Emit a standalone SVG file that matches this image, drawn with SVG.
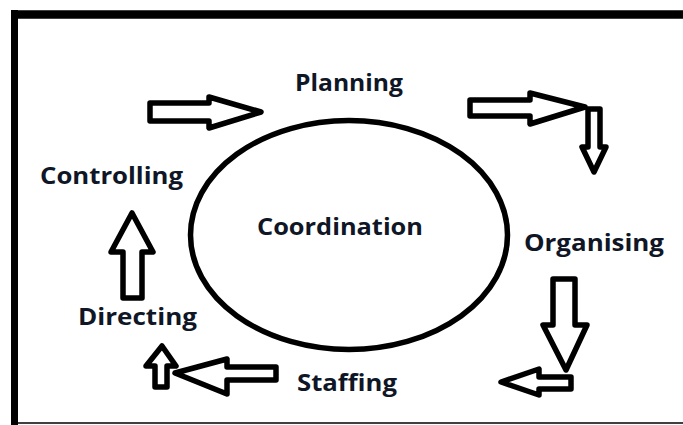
<svg xmlns="http://www.w3.org/2000/svg" width="683" height="425" viewBox="0 0 683 425">
<style>
.lbl{font-family:"Open Sans","Liberation Sans",sans-serif;font-weight:bold;fill:#0f1626;font-size:23px}
.arr{fill:#fff;stroke:#000;stroke-width:5.5;stroke-linejoin:round}
</style>
<rect x="0" y="0" width="683" height="425" fill="#fff"/>
<g id="frame">
<line x1="11" y1="14.5" x2="683" y2="14.5" stroke="#000" stroke-width="8.5"/>
<line x1="14.5" y1="10" x2="14.5" y2="425" stroke="#000" stroke-width="7"/>
<line x1="14" y1="423" x2="683" y2="423" stroke="#000" stroke-width="1.6"/>
</g>
<g id="coordination">
<ellipse cx="349" cy="235" rx="158.5" ry="114.5" fill="#fff" stroke="#000" stroke-width="5.5"/>
<text class="lbl" x="257" y="235" font-size="25" textLength="166" lengthAdjust="spacingAndGlyphs">Coordination</text>
</g>
<g id="planning"><text class="lbl" x="295" y="91" textLength="108" lengthAdjust="spacingAndGlyphs">Planning</text></g>
<g id="organising"><text class="lbl" x="524" y="251" textLength="140" lengthAdjust="spacingAndGlyphs">Organising</text></g>
<g id="staffing"><text class="lbl" x="297" y="391" textLength="100" lengthAdjust="spacingAndGlyphs">Staffing</text></g>
<g id="directing"><text class="lbl" x="78" y="325" textLength="119" lengthAdjust="spacingAndGlyphs">Directing</text></g>
<g id="controlling"><text class="lbl" x="40" y="184" textLength="143" lengthAdjust="spacingAndGlyphs">Controlling</text></g>
<g id="connectors">
<polygon class="arr" points="150,103 209,103 209,97 261,112 209,128 209,121 150,121"/>
<polygon class="arr" points="470,100 530,100 530,93 585,107 530,124 530,116 470,116"/>
<polygon class="arr" points="588,109 600,109 600,147 606,147 594,172 582,147 588,147"/>
<polygon class="arr" points="553,279 575,279 575,325 587,325 566,370 543,325 553,325"/>
<polygon class="arr" points="571,377 571,389 539,389 539,395 501,382 539,369 539,377"/>
<polygon class="arr" points="276,367 276,380 227,380 227,394 175,373 227,359 227,367"/>
<polygon class="arr" points="155,387 155,366 146,366 162,346 176,366 167,366 167,387"/>
<polygon class="arr" points="123,298 123,252 111,252 132,213 153,252 142,252 142,298"/>
</g>
</svg>
